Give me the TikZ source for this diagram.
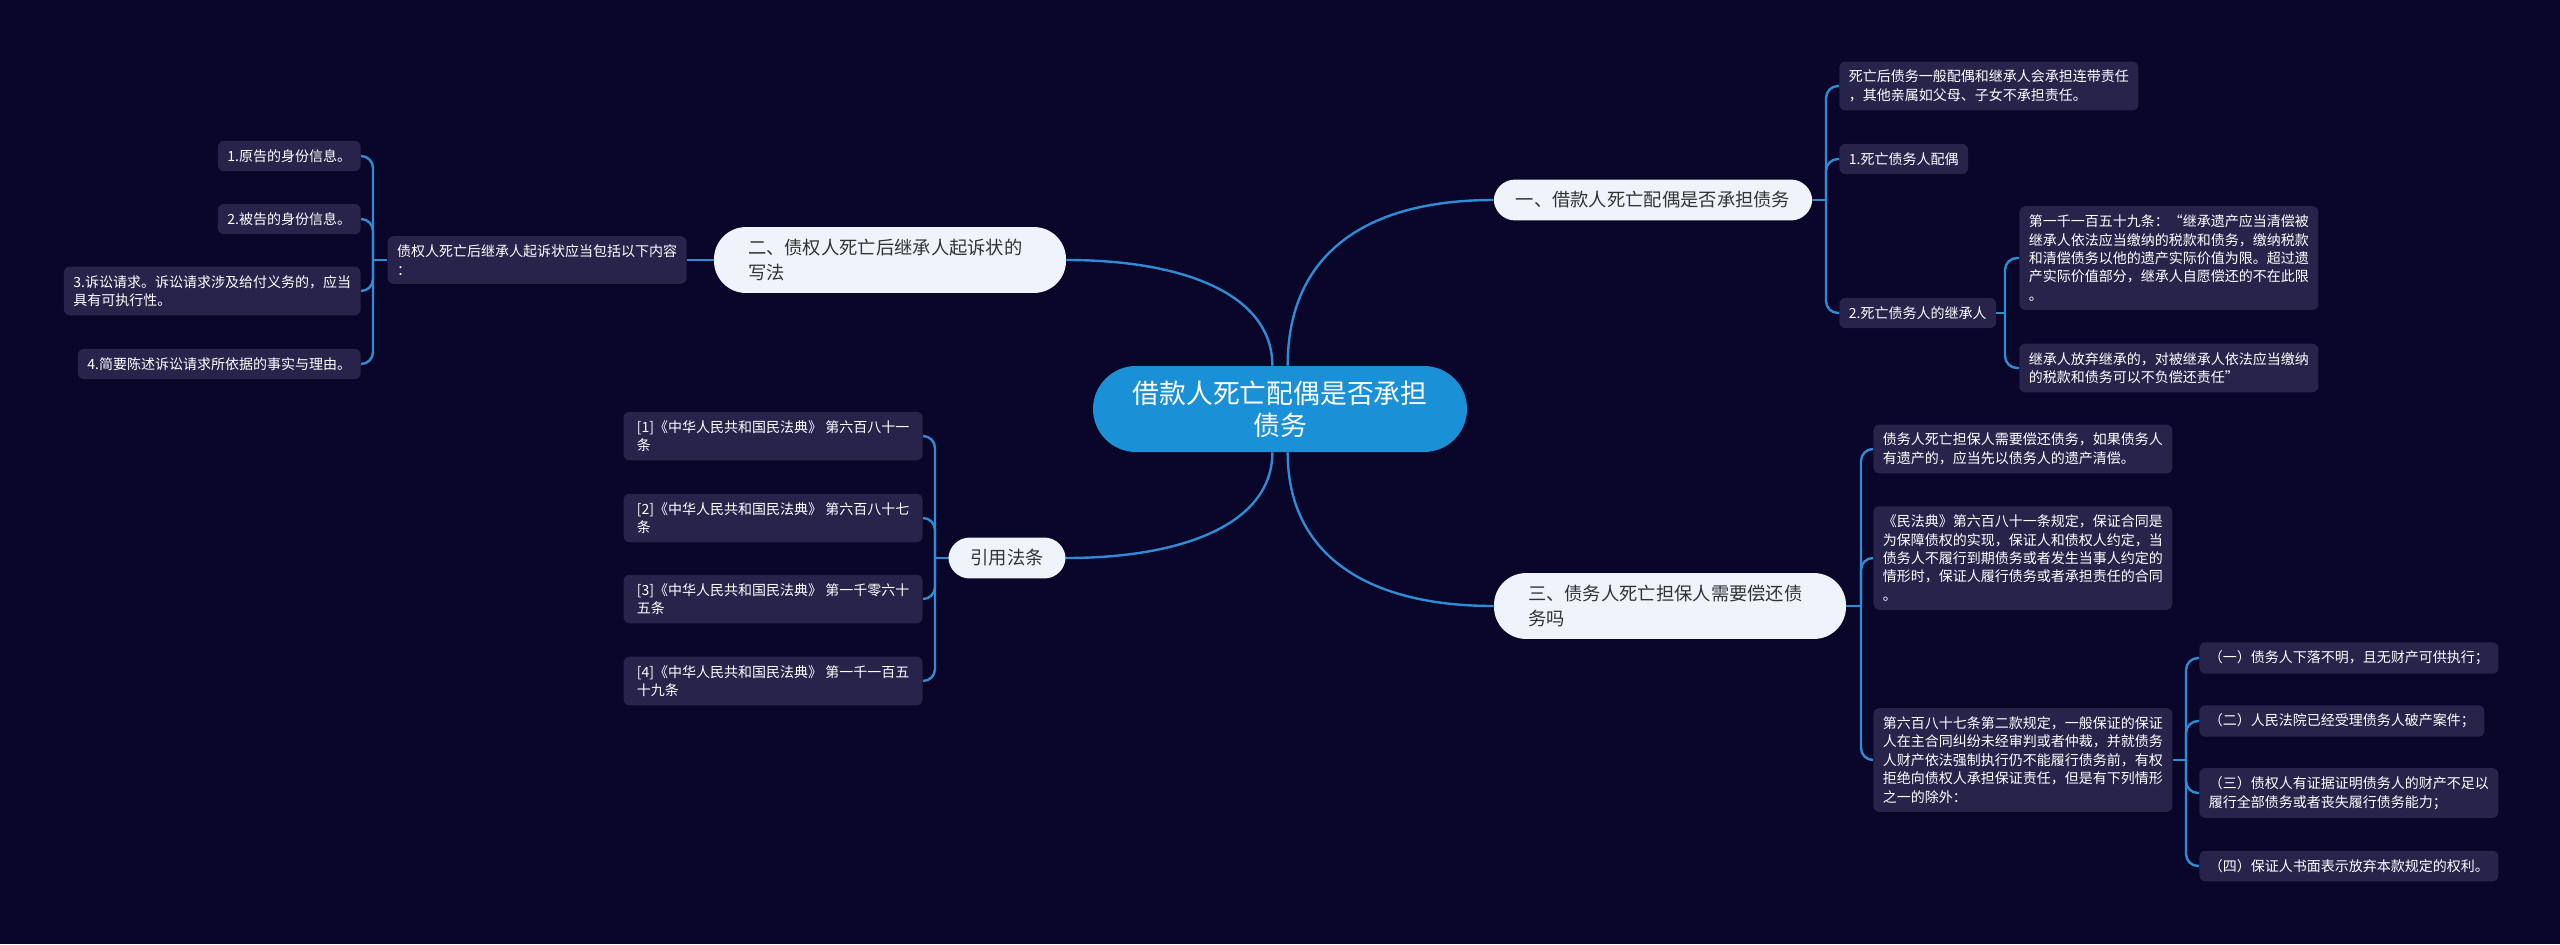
\documentclass[tikz,border=0pt]{standalone}
\usepackage{fontspec}
\setmainfont{Noto Sans CJK SC}
\usetikzlibrary{positioning}
\definecolor{mbg}{HTML}{0A0629}
\definecolor{mleaf}{HTML}{27234A}
\definecolor{mroot}{HTML}{1A90D6}
\definecolor{mbranch}{HTML}{EEF3FC}
\definecolor{mline}{HTML}{2E8CD6}
\definecolor{mtext}{HTML}{333333}
\tikzset{
  rootnode/.style = {fill=mroot, text=white, rounded corners=21.5pt,
                     minimum width=187pt, minimum height=43pt, align=center,
                     font=\fontsize{13.4}{16}\selectfont},
  branch/.style   = {fill=mbranch, text=mtext, inner xsep=11pt, inner ysep=6pt,
                     rounded corners=10.7pt, font=\fontsize{9.15}{12.5}\selectfont},
  branchtwo/.style= {branch, text width=142pt, inner xsep=17pt, align=left,
                     rounded corners=16pt},
  leaf/.style     = {fill=mleaf, text=white, rounded corners=3pt, align=left,
                     inner xsep=4.75pt, inner ysep=4.3pt, font=\fontsize{7}{9.2}\selectfont},
  cite/.style     = {leaf, anchor=east, minimum width=149.5pt},
  link/.style     = {draw=mline, line width=1.2pt},
  forkline/.style = {link, rounded corners=6pt},
}

\begin{document}
\begin{tikzpicture}[x=0.5pt,y=-0.5pt]
% background, fixes the page size
\fill[mbg] (0,0) rectangle (2560,944);
% centre and the four branches
\node[rootnode] (root) at (1280,409) {借款人死亡配偶是否承担\\债务};
\node[branch]    (b1) at (1653,200) {一、借款人死亡配偶是否承担债务};
\node[branchtwo] (b2) at (890,260)  {二、债权人死亡后继承人起诉状的\\写法};
\node[branchtwo] (b3) at (1670,606) {三、债务人死亡担保人需要偿还债\\务吗};
\node[branch]    (b4) at (1007,558) {引用法条};
\draw[link] (root.100) .. controls +(0,-70) and +(120,0) .. (b2.east);
\draw[link] (root.80) .. controls +(0,-110) and +(-130,0) .. (b1.west);
\draw[link] (root.280) .. controls +(0,100) and +(-130,0) .. (b3.west);
\draw[link] (root.260) .. controls +(0,70) and +(120,0) .. (b4.east);

% branch one
\node[leaf,anchor=west] (c1a) at (1839,86) {死亡后债务一般配偶和继承人会承担连带责任\\，其他亲属如父母、子女不承担责任。};
\node[leaf,anchor=west] (c1b) at (1839,159) {1.死亡债务人配偶};
\node[leaf,anchor=west] (c1c) at (1839,313) {2.死亡债务人的继承人};
\node[leaf,anchor=west] (d1) at (2019,258) {第一千一百五十九条：“继承遗产应当清偿被\\继承人依法应当缴纳的税款和债务，缴纳税款\\和清偿债务以他的遗产实际价值为限。超过遗\\产实际价值部分，继承人自愿偿还的不在此限\\。};
\node[leaf,anchor=west] (d2) at (2019,368) {继承人放弃继承的，对被继承人依法应当缴纳\\的税款和债务可以不负偿还责任”};
\coordinate (j1) at (1826,200);
\coordinate (jc) at (2005,313);
\draw[link] (b1.east) -- (j1);
\foreach \c in {c1a,c1b,c1c} \draw[forkline] (j1) |- (\c.west);
\draw[link] (c1c.east) -- (jc);
\foreach \c in {d1,d2} \draw[forkline] (jc) |- (\c.west);

% branch three
\node[leaf,anchor=west] (e1) at (1873,449) {债务人死亡担保人需要偿还债务，如果债务人\\有遗产的，应当先以债务人的遗产清偿。};
\node[leaf,anchor=west] (e2) at (1873,558) {《民法典》第六百八十一条规定，保证合同是\\为保障债权的实现，保证人和债权人约定，当\\债务人不履行到期债务或者发生当事人约定的\\情形时，保证人履行债务或者承担责任的合同\\。};
\node[leaf,anchor=west] (e3) at (1873,760) {第六百八十七条第二款规定，一般保证的保证\\人在主合同纠纷未经审判或者仲裁，并就债务\\人财产依法强制执行仍不能履行债务前，有权\\拒绝向债权人承担保证责任，但是有下列情形\\之一的除外：};
\node[leaf,anchor=west] (f1) at (2199,658) {（一）债务人下落不明，且无财产可供执行；};
\node[leaf,anchor=west] (f2) at (2199,721) {（二）人民法院已经受理债务人破产案件；};
\node[leaf,anchor=west] (f3) at (2199,793) {（三）债权人有证据证明债务人的财产不足以\\履行全部债务或者丧失履行债务能力；};
\node[leaf,anchor=west] (f4) at (2199,866) {（四）保证人书面表示放弃本款规定的权利。};
\coordinate (j3) at (1861,606);
\coordinate (je) at (2186,760);
\draw[link] (b3.east) -- (j3);
\foreach \c in {e1,e2,e3} \draw[forkline] (j3) |- (\c.west);
\draw[link] (e3.east) -- (je);
\foreach \c in {f1,f2,f3,f4} \draw[forkline] (je) |- (\c.west);

% branch two
\node[leaf,anchor=east] (l2) at (687,260) {债权人死亡后继承人起诉状应当包括以下内容\\：};
\node[leaf,anchor=east] (g1) at (361,156) {1.原告的身份信息。};
\node[leaf,anchor=east] (g2) at (361,219) {2.被告的身份信息。};
\node[leaf,anchor=east] (g3) at (361,291) {3.诉讼请求。诉讼请求涉及给付义务的，应当\\具有可执行性。};
\node[leaf,anchor=east] (g4) at (361,364) {4.简要陈述诉讼请求所依据的事实与理由。};
\coordinate (j2) at (373,260);
\draw[link] (b2.west) -- (l2.east);
\draw[link] (l2.west) -- (j2);
\foreach \c in {g1,g2,g3,g4} \draw[forkline] (j2) |- (\c.east);

% cited articles
\node[cite] (h1) at (923,436) {[1]《中华人民共和国民法典》 第六百八十一\\条};
\node[cite] (h2) at (923,518) {[2]《中华人民共和国民法典》 第六百八十七\\条};
\node[cite] (h3) at (923,599) {[3]《中华人民共和国民法典》 第一千零六十\\五条};
\node[cite] (h4) at (923,681) {[4]《中华人民共和国民法典》 第一千一百五\\十九条};
\coordinate (j4) at (935,558);
\draw[link] (b4.west) -- (j4);
\foreach \c in {h1,h2,h3,h4} \draw[forkline] (j4) |- (\c.east);
\end{tikzpicture}
\end{document}
